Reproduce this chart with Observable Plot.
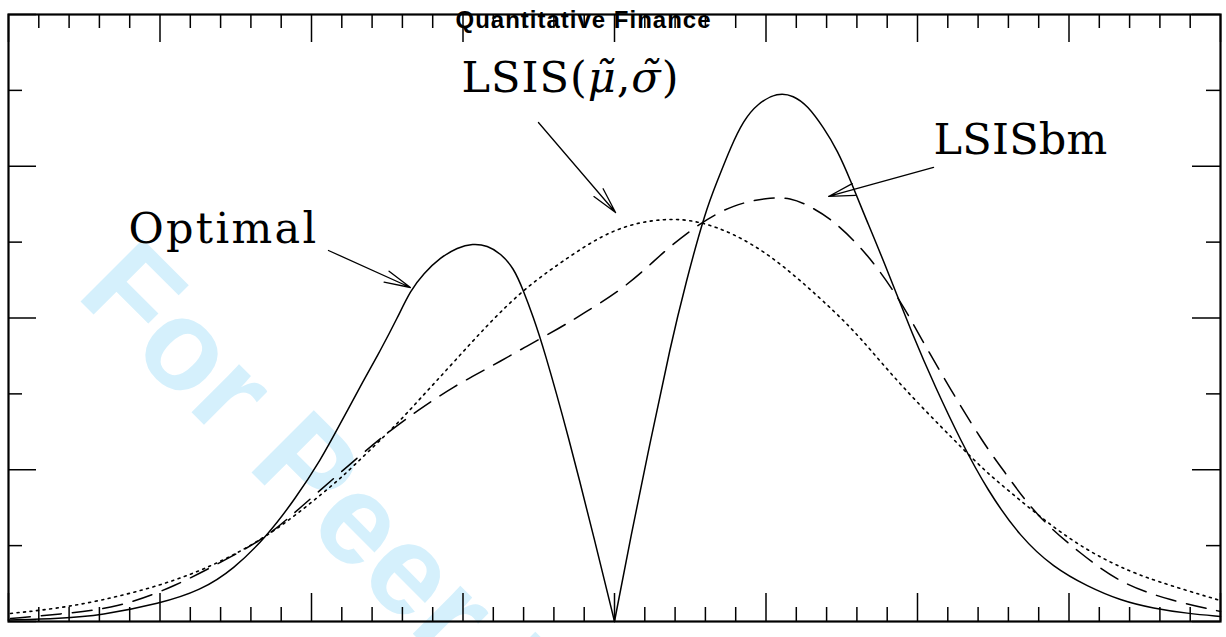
<!DOCTYPE html>
<html>
<head>
<meta charset="utf-8">
<script src="https://cdn.jsdelivr.net/npm/d3@7"></script>
<script src="https://cdn.jsdelivr.net/npm/@observablehq/plot@0.6"></script>
<style>
  html, body { margin: 0; padding: 0; background: #fff; }
  #chart { width: 1226px; height: 637px; overflow: hidden; }
</style>
</head>
<body>
<div id="chart"></div>
<script>
// ---------------- data ----------------
const title = "Quantitative Finance";
const watermark = "For Peer Review";
const labels = ["Optimal", "LSIS(μ̃,σ̃)", "LSISbm"];

// Optimal density (solid) — left lobe and right lobe meet in a cusp at x = 0
const optimalLeftX = [-4.000,-3.657,-3.393,-2.997,-2.733,-2.515,-2.290,-2.106,-1.941,-1.809,-1.657,-1.545,-1.432,-1.347,-1.261,-1.149,-1.036,-0.937,-0.838,-0.752,-0.667,-0.601,-0.535,-0.469,-0.310,-0.119,0];
const optimalLeftY = [0.010,0.020,0.040,0.119,0.204,0.343,0.567,0.811,1.061,1.305,1.588,1.786,2.003,2.181,2.293,2.399,2.465,2.491,2.478,2.425,2.333,2.181,2.003,1.806,1.245,0.488,0];
const optimalRightX = [0,0.106,0.238,0.370,0.469,0.601,0.680,0.766,0.851,0.944,1.076,1.182,1.274,1.380,1.472,1.558,1.637,1.776,1.974,2.119,2.284,2.462,2.680,2.898,3.122,3.340,3.558,3.782,4.000];
const optimalRightY = [0,0.554,1.193,1.819,2.227,2.708,2.906,3.124,3.301,3.414,3.486,3.466,3.400,3.255,3.104,2.906,2.708,2.379,1.871,1.542,1.193,0.863,0.554,0.356,0.231,0.138,0.086,0.053,0.033];

// LSIS(mu~, sigma~) (dotted)
const lsisX = [-3.987,-3.611,-3.175,-2.733,-2.290,-1.960,-1.809,-1.630,-1.432,-1.300,-1.063,-0.825,-0.594,-0.356,0.000,0.350,0.568,0.785,1.010,1.228,1.446,1.624,1.888,2.264,2.462,2.680,2.898,3.122,3.340,3.558,4.000];
const lsisY = [0.053,0.092,0.185,0.323,0.554,0.817,0.942,1.114,1.305,1.450,1.707,1.970,2.194,2.366,2.603,2.662,2.636,2.557,2.425,2.247,2.049,1.871,1.555,1.173,0.975,0.797,0.619,0.468,0.356,0.270,0.138];

// LSISbm (dashed)
const lsisbmX = [-3.987,-3.611,-3.281,-2.911,-2.515,-2.290,-2.073,-1.809,-1.525,-1.300,-1.063,-0.825,-0.594,-0.356,-0.205,0.040,0.238,0.350,0.568,0.785,1.010,1.162,1.294,1.446,1.670,1.888,2.020,2.218,2.436,2.568,2.792,3.076,3.340,3.670,4.000];
const lsisbmY = [0.020,0.053,0.092,0.224,0.435,0.560,0.751,0.982,1.226,1.390,1.549,1.674,1.806,1.937,2.030,2.181,2.353,2.458,2.629,2.748,2.794,2.794,2.735,2.643,2.425,2.115,1.871,1.529,1.173,0.995,0.685,0.448,0.250,0.138,0.066];

// axis ticks (no tick labels in the figure)
const xMajorTicks = [-4,-3,-2,-1,0,1,2,3,4];
const xMinorTicks = d3.range(-4, 4.0001, 0.2).map(v => +v.toFixed(1)).filter(v => !xMajorTicks.includes(v));
const yMajorTicks = [0,1,2,3,4];
const yMinorTicks = [0.5,1.5,2.5,3.5];

// ---------------- annotation placement (data units) ----------------
const labelPos = [
  {text: labels[0], x: -3.208, y: 2.491, spacing: 2.3},
  {text: labels[1], x: -1.010, y: 3.486, spacing: 1.0},
  {text: labels[2], x: 2.106, y: 3.084, spacing: 0.2}
];
const arrows = [
  {x1: -1.888, y1: 2.445, x2: -1.347, y2: 2.201},
  {x1: -0.502, y1: 3.288, x2: 0.007, y2: 2.695},
  {x1: 2.106, y1: 2.992, x2: 1.413, y2: 2.801}
];
const watermarkPos = [{text: watermark, x: -3.564, y: 2.148}];

// ---------------- build ----------------
const toPts = (X, Y, seg) => X.map((x, i) => ({x, y: Y[i], seg}));
const optimal = [...toPts(optimalLeftX, optimalLeftY, "L"), ...toPts(optimalRightX, optimalRightY, "R")];
const lsis = toPts(lsisX, lsisY, "A");
const lsisbm = toPts(lsisbmX, lsisbmY, "A");

const W = 1226, H = 637, mL = 8, mR = 6, mT = 14, mB = 16;
const innerW = W - mL - mR, innerH = H - mT - mB;
const majorLen = 28, minorLen = 14;
const serif = "'DejaVu Serif', 'Liberation Serif', serif";
const sans = "'Liberation Sans', Arial, Helvetica, sans-serif";

const plot = Plot.plot({
  width: W, height: H,
  marginLeft: mL, marginRight: mR, marginTop: mT, marginBottom: mB,
  x: {domain: [-4, 4], axis: null},
  y: {domain: [0, 4], axis: null},
  style: {background: "white", color: "black"},
  marks: [
    Plot.text(watermarkPos, {x: "x", y: "y", text: "text", rotate: 45, fontSize: 128, fontWeight: "bold",
      fontFamily: sans, fill: "#d5f0fc", textAnchor: "start", lineAnchor: "bottom"}),
    // ticks: bottom / top
    Plot.tickX(xMajorTicks, {x: d => d, insetTop: innerH - majorLen, strokeWidth: 1.5}),
    Plot.tickX(xMinorTicks, {x: d => d, insetTop: innerH - minorLen, strokeWidth: 1.5}),
    Plot.tickX(xMajorTicks, {x: d => d, insetBottom: innerH - majorLen, strokeWidth: 1.5}),
    Plot.tickX(xMinorTicks, {x: d => d, insetBottom: innerH - minorLen, strokeWidth: 1.5}),
    // ticks: left / right
    Plot.tickY(yMajorTicks, {y: d => d, insetRight: innerW - majorLen, strokeWidth: 1.5}),
    Plot.tickY(yMinorTicks, {y: d => d, insetRight: innerW - minorLen, strokeWidth: 1.5}),
    Plot.tickY(yMajorTicks, {y: d => d, insetLeft: innerW - majorLen, strokeWidth: 1.5}),
    Plot.tickY(yMinorTicks, {y: d => d, insetLeft: innerW - minorLen, strokeWidth: 1.5}),
    // curves
    Plot.line(lsis, {x: "x", y: "y", curve: "basis", stroke: "black", strokeWidth: 1.6, strokeDasharray: "2,4.6"}),
    Plot.line(lsisbm, {x: "x", y: "y", curve: "basis", stroke: "black", strokeWidth: 1.5, strokeDasharray: "20,11"}),
    Plot.line(optimal, {x: "x", y: "y", z: "seg", curve: "basis", stroke: "black", strokeWidth: 1.5}),
    // annotations
    Plot.arrow(arrows, {x1: "x1", y1: "y1", x2: "x2", y2: "y2", stroke: "black", strokeWidth: 1.3, headAngle: 26, headLength: 31}),
    Plot.text(labelPos, {x: "x", y: "y", text: "text", fontSize: 43, fontFamily: serif, fill: "black",
      textAnchor: "start", lineAnchor: "bottom"}),
    Plot.frame({stroke: "black", strokeWidth: 2.2}),
    Plot.text([title], {text: d => d, frameAnchor: "top", dx: -31, dy: 13, lineAnchor: "bottom",
      fontSize: 24, fontWeight: "bold", fontFamily: sans, fill: "black"})
  ]
});

// letter spacing and italic Greek in the LSIS label
d3.select(plot).selectAll("text").each(function () {
  const t = this.textContent;
  const lp = labelPos.find(d => d.text === t);
  if (lp) this.setAttribute("letter-spacing", lp.spacing);
  if (t === title) this.setAttribute("letter-spacing", 1);
  if (t === labels[1]) {
    const el = d3.select(this);
    el.text(null);
    const parts = [["LSIS(", null], ["μ̃", "italic"], [",", null], ["σ̃", "italic"], [")", null]];
    for (const [s, st] of parts) {
      const ts = el.append("tspan").text(s);
      if (st) ts.attr("font-style", st);
    }
  }
});

document.getElementById("chart").appendChild(plot);
</script>
</body>
</html>
